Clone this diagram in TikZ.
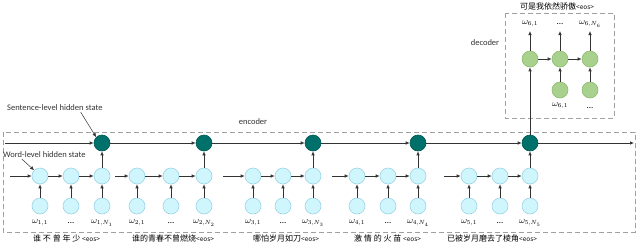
\documentclass[tikz,border=0pt]{standalone}
\usepackage{fontspec}
\setmainfont{Carlito}
\newfontfamily\cjk{Noto Sans CJK SC}
\usetikzlibrary{arrows.meta}
\definecolor{cyfill}{HTML}{CFF6FC}
\definecolor{cyline}{HTML}{9CD3E6}
\definecolor{tealf}{HTML}{00706A}
\definecolor{tealb}{HTML}{005A55}
\definecolor{grf}{HTML}{A9D18E}
\definecolor{grb}{HTML}{8DBB70}
\definecolor{ln}{HTML}{333333}
\definecolor{bx}{HTML}{A0A0A0}
\begin{document}
\begin{tikzpicture}[x=1pt,y=-1pt,
  hid/.style={circle,draw=cyline,fill=cyfill,minimum size=16pt,inner sep=0pt,line width=0.6pt},
  sent/.style={circle,draw=tealb,fill=tealf,minimum size=16pt,inner sep=0pt,line width=0.6pt},
  dec/.style={circle,draw=grb,fill=grf,minimum size=16pt,inner sep=0pt,line width=0.6pt},
  arr/.style={-{Latex[length=4pt,width=3.5pt]},draw=ln,line width=0.7pt},
  dbox/.style={draw=bx,dash pattern=on 5pt off 3pt,line width=0.9pt},
  lab/.style={font=\fontsize{9}{10}\selectfont,inner sep=0pt},
  cn/.style={font=\fontsize{8}{9}\selectfont\cjk,inner sep=0pt,anchor=west},
  txt/.style={font=\fontsize{8.5}{10}\selectfont,inner sep=0pt,text=ln}]
\useasboundingbox (0,0) rectangle (640,244);
% boxes
\draw[dbox] (3,132) rectangle (635,232);
\draw[dbox] (505,13) rectangle (614,118);
\node[txt] (enc) at (253,122) {encoder};
\node[txt] (decl) at (485,43) {decoder};
% encoder groups
\foreach \i/\a/\b/\c/\s in {1/40/71/102/10,2/137/171/204/115,3/253/283/313/223,4/357/388/418/332,5/469/500/530/444}{
  \node[hid] (h\i a) at (\a,176) {};
  \node[hid] (h\i b) at (\b,176) {};
  \node[hid] (h\i c) at (\c,176) {};
  \node[hid] (x\i a) at (\a,206) {};
  \node[hid] (x\i b) at (\b,206) {};
  \node[hid] (x\i c) at (\c,206) {};
  \node[sent] (s\i) at (\c,143) {};
  \coordinate (in\i) at (\s,176);
  \draw[arr] (in\i) -- (h\i a);
  \draw[arr] (h\i a) -- (h\i b);
  \draw[arr] (h\i b) -- (h\i c);
  \draw[arr] (x\i a) -- (h\i a);
  \draw[arr] (x\i b) -- (h\i b);
  \draw[arr] (x\i c) -- (h\i c);
  \draw[arr] (h\i c) -- (s\i);
  \node[lab] (w\i a) at (\a,223) {$\omega_{\i,1}$};
  \node[lab] (w\i b) at (\b,223) {...};
  \node[lab] (w\i c) at (\c,223) {$\omega_{\i,N_{\i}}$};
}
% sentence chain
\coordinate (sst) at (5,143);
\coordinate (send) at (634,143);
\draw[arr] (sst) -- (s1);
\draw[arr] (s1) -- (s2);
\draw[arr] (s2) -- (s3);
\draw[arr] (s3) -- (s4);
\draw[arr] (s4) -- (s5);
\draw[arr] (s5) -- (send);
% sentences
\node[cn] (t1) at (33,238) {谁 不 曾 年 少 {\fontsize{6.5}{7}\selectfont<eos>}};
\node[cn] (t2) at (132,238) {谁的青春不曾燃烧{\fontsize{6.5}{7}\selectfont<eos>}};
\node[cn] (t3) at (253,238) {哪怕岁月如刀{\fontsize{6.5}{7}\selectfont<eos>}};
\node[cn] (t4) at (354,238) {激 情 的 火 苗 {\fontsize{6.5}{7}\selectfont<eos>}};
\node[cn] (t5) at (447,238) {已被岁月磨去了棱角{\fontsize{6.5}{7}\selectfont<eos>}};
\node[cn] (t6) at (520,6) {可是我依然骄傲{\fontsize{6.5}{7}\selectfont<eos>}};
% decoder
\node[dec] (d1) at (530,59) {};
\node[dec] (d2) at (560,59) {};
\node[dec] (d3) at (590,59) {};
\node[dec] (e2) at (560,90) {};
\node[dec] (e3) at (590,90) {};
\draw[arr] (d1) -- (d2);
\draw[arr] (d2) -- (d3);
\draw[arr] (e2) -- (d2);
\draw[arr] (e3) -- (d3);
\draw[arr] (s5) -- (d1);
\node[lab] (o1) at (530,24) {$\omega_{6,1}$};
\node[lab] (o2) at (560,24) {...};
\node[lab] (o3) at (590,24) {$\omega_{6,N_6}$};
\draw[arr] (d1) -- (o1.south |- 0,31);
\draw[arr] (d2) -- (o2.south |- 0,31);
\draw[arr] (d3) -- (o3.south |- 0,31);
\node[lab] (i2) at (560,106) {$\omega_{6,1}$};
\node[lab] (i3) at (590,108) {...};
% annotations
\node[txt,anchor=west] (sl) at (7,108) {Sentence-level hidden state};
\node[txt,anchor=west] (wl) at (3,155) {Word-level hidden state};
\draw[arr,line width=0.5pt] ([xshift=-22pt,yshift=-1pt]sl.south east) -- (s1.north west);
\draw[arr,line width=0.5pt] ([xshift=-64pt,yshift=-1pt]wl.south east) -- (h1a.north west);
\end{tikzpicture}
\end{document}
